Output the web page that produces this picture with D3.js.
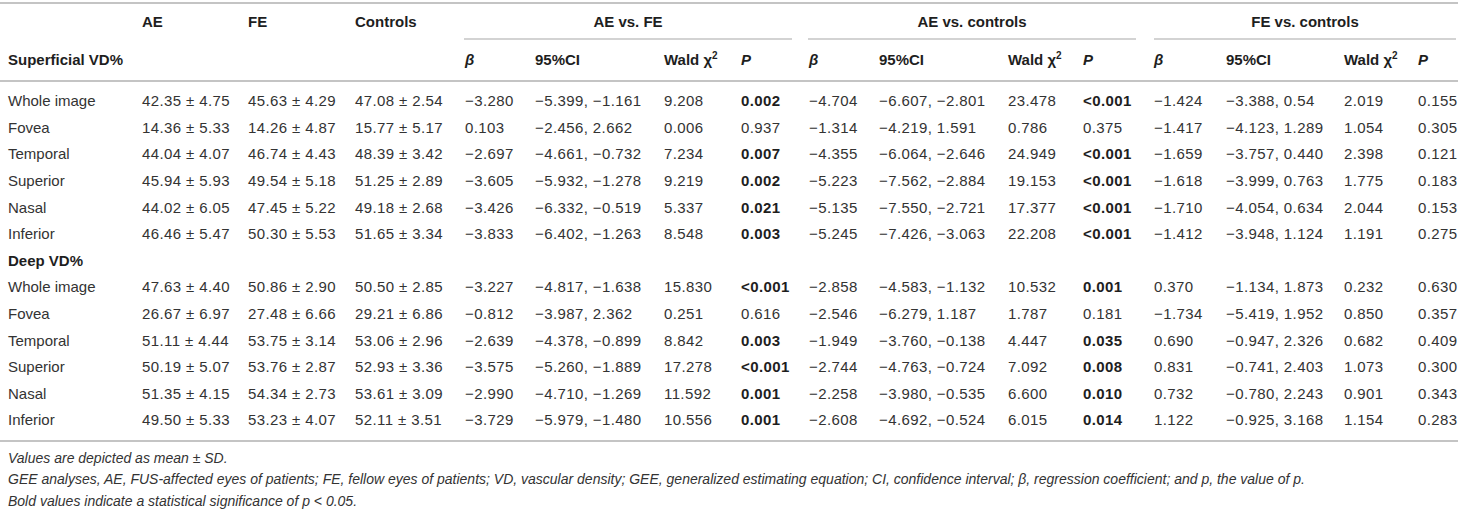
<!DOCTYPE html>
<html>
<head>
<meta charset="utf-8">
<script src="https://cdn.jsdelivr.net/npm/d3@7"></script>
<style>
  body { margin: 0; background: #fff; }
  svg { display: block; font-family: "Liberation Sans", Arial, Helvetica, sans-serif; }
</style>
</head>
<body>
<div id="chart"></div>
<script>
// ---- data ----
const regions = ['Whole image', 'Fovea', 'Temporal', 'Superior', 'Nasal', 'Inferior'];
const sections = ['Superficial VD%', 'Deep VD%'];
const groupHeads = ['AE', 'FE', 'Controls'];
const comparisons = ['AE vs. FE', 'AE vs. controls', 'FE vs. controls'];

// mean ± SD : AE, FE, Controls
const supGroups = [
    ['42.35 ± 4.75', '45.63 ± 4.29', '47.08 ± 2.54'],
    ['14.36 ± 5.33', '14.26 ± 4.87', '15.77 ± 5.17'],
    ['44.04 ± 4.07', '46.74 ± 4.43', '48.39 ± 3.42'],
    ['45.94 ± 5.93', '49.54 ± 5.18', '51.25 ± 2.89'],
    ['44.02 ± 6.05', '47.45 ± 5.22', '49.18 ± 2.68'],
    ['46.46 ± 5.47', '50.30 ± 5.53', '51.65 ± 3.34']
];
const deepGroups = [
    ['47.63 ± 4.40', '50.86 ± 2.90', '50.50 ± 2.85'],
    ['26.67 ± 6.97', '27.48 ± 6.66', '29.21 ± 6.86'],
    ['51.11 ± 4.44', '53.75 ± 3.14', '53.06 ± 2.96'],
    ['50.19 ± 5.07', '53.76 ± 2.87', '52.93 ± 3.36'],
    ['51.35 ± 4.15', '54.34 ± 2.73', '53.61 ± 3.09'],
    ['49.50 ± 5.33', '53.23 ± 4.07', '52.11 ± 3.51']
];

// β, 95%CI, Wald χ², P
const supAEvsFE = [
    ['−3.280', '−5.399, −1.161', '9.208', '0.002'],
    ['0.103', '−2.456, 2.662', '0.006', '0.937'],
    ['−2.697', '−4.661, −0.732', '7.234', '0.007'],
    ['−3.605', '−5.932, −1.278', '9.219', '0.002'],
    ['−3.426', '−6.332, −0.519', '5.337', '0.021'],
    ['−3.833', '−6.402, −1.263', '8.548', '0.003']
];
const supAEvsCtrl = [
    ['−4.704', '−6.607, −2.801', '23.478', '<0.001'],
    ['−1.314', '−4.219, 1.591', '0.786', '0.375'],
    ['−4.355', '−6.064, −2.646', '24.949', '<0.001'],
    ['−5.223', '−7.562, −2.884', '19.153', '<0.001'],
    ['−5.135', '−7.550, −2.721', '17.377', '<0.001'],
    ['−5.245', '−7.426, −3.063', '22.208', '<0.001']
];
const supFEvsCtrl = [
    ['−1.424', '−3.388, 0.54', '2.019', '0.155'],
    ['−1.417', '−4.123, 1.289', '1.054', '0.305'],
    ['−1.659', '−3.757, 0.440', '2.398', '0.121'],
    ['−1.618', '−3.999, 0.763', '1.775', '0.183'],
    ['−1.710', '−4.054, 0.634', '2.044', '0.153'],
    ['−1.412', '−3.948, 1.124', '1.191', '0.275']
];
const deepAEvsFE = [
    ['−3.227', '−4.817, −1.638', '15.830', '<0.001'],
    ['−0.812', '−3.987, 2.362', '0.251', '0.616'],
    ['−2.639', '−4.378, −0.899', '8.842', '0.003'],
    ['−3.575', '−5.260, −1.889', '17.278', '<0.001'],
    ['−2.990', '−4.710, −1.269', '11.592', '0.001'],
    ['−3.729', '−5.979, −1.480', '10.556', '0.001']
];
const deepAEvsCtrl = [
    ['−2.858', '−4.583, −1.132', '10.532', '0.001'],
    ['−2.546', '−6.279, 1.187', '1.787', '0.181'],
    ['−1.949', '−3.760, −0.138', '4.447', '0.035'],
    ['−2.744', '−4.763, −0.724', '7.092', '0.008'],
    ['−2.258', '−3.980, −0.535', '6.600', '0.010'],
    ['−2.608', '−4.692, −0.524', '6.015', '0.014']
];
const deepFEvsCtrl = [
    ['0.370', '−1.134, 1.873', '0.232', '0.630'],
    ['−1.734', '−5.419, 1.952', '0.850', '0.357'],
    ['0.690', '−0.947, 2.326', '0.682', '0.409'],
    ['0.831', '−0.741, 2.403', '1.073', '0.300'],
    ['0.732', '−0.780, 2.243', '0.901', '0.343'],
    ['1.122', '−0.925, 3.168', '1.154', '0.283']
];

const footnotes = [
    'Values are depicted as mean ± SD.',
    'GEE analyses, AE, FUS-affected eyes of patients; FE, fellow eyes of patients; VD, vascular density; GEE, generalized estimating equation; CI, confidence interval; β, regression coefficient; and p, the value of p.',
    'Bold values indicate a statistical significance of p < 0.05.'
];

// ---- layout ----
const W = 1458, H = 509;
const colKeys = ['label', 'AE', 'FE', 'Controls',
    'b1', 'ci1', 'w1', 'p1', 'b2', 'ci2', 'w2', 'p2', 'b3', 'ci3', 'w3', 'p3'];
const colX = d3.scaleOrdinal()
    .domain(colKeys)
    .range([8, 142, 248, 355, 465, 535, 664, 741, 809, 879, 1008, 1083, 1154, 1226, 1344, 1418]);
const groupSpan = [[464, 792], [808, 1136], [1154, 1456]];

// body rows: 6 superficial, 1 section label, 6 deep
const rowY = d3.scaleLinear().domain([0, 12]).range([101, 420]);

const pVal = s => s.startsWith('<') ? +s.slice(1) / 2 : +s;

const rows = [];
regions.forEach((r, i) => rows.push({ label: r, groups: supGroups[i], comps: [supAEvsFE[i], supAEvsCtrl[i], supFEvsCtrl[i]] }));
rows.push({ label: sections[1], section: true });
regions.forEach((r, i) => rows.push({ label: r, groups: deepGroups[i], comps: [deepAEvsFE[i], deepAEvsCtrl[i], deepFEvsCtrl[i]] }));

const svg = d3.select('#chart').append('svg').attr('width', W).attr('height', H);

const textCol = '#333', headCol = '#1e1e1e', ruleCol = '#c4c4c4';

// Rules
[3, 81, 441].forEach(y => {
    svg.append('line').attr('x1', 0).attr('x2', W).attr('y1', y).attr('y2', y)
        .attr('stroke', ruleCol).attr('stroke-width', 2);
});
groupSpan.forEach(([a, b]) => {
    svg.append('line').attr('x1', a).attr('x2', b).attr('y1', 39).attr('y2', 39)
        .attr('stroke', ruleCol).attr('stroke-width', 1.5);
});

// Header row 1
const head = svg.append('g').attr('font-weight', 700).attr('fill', headCol).attr('font-size', 15);
groupHeads.forEach(h => head.append('text').attr('x', colX(h)).attr('y', 22).attr('dy', '0.35em').text(h));
comparisons.forEach((c, i) => head.append('text')
    .attr('x', (groupSpan[i][0] + groupSpan[i][1]) / 2).attr('y', 22).attr('dy', '0.35em')
    .attr('text-anchor', 'middle').text(c));

// Header row 2
head.append('text').attr('x', colX('label')).attr('y', 60).attr('dy', '0.35em').text(sections[0]);
[1, 2, 3].forEach(k => {
    head.append('text').attr('x', colX('b' + k)).attr('y', 60).attr('dy', '0.35em')
        .attr('font-style', 'italic').text('β');
    head.append('text').attr('x', colX('ci' + k)).attr('y', 60).attr('dy', '0.35em').text('95%CI');
    const wt = head.append('text').attr('x', colX('w' + k)).attr('y', 60).attr('dy', '0.35em');
    wt.append('tspan').text('Wald χ');
    wt.append('tspan').attr('font-size', 10).attr('dy', '-0.6em').text('2');
    head.append('text').attr('x', colX('p' + k)).attr('y', 60).attr('dy', '0.35em')
        .attr('font-style', 'italic').text('P');
});

// Body
const body = svg.append('g').attr('font-size', 15).attr('fill', textCol);
const rowG = body.selectAll('g.row').data(rows).join('g')
    .attr('class', 'row')
    .attr('transform', (d, i) => `translate(0,${rowY(i)})`);

rowG.append('text').attr('x', colX('label')).attr('dy', '0.35em')
    .attr('font-weight', d => d.section ? 700 : 400)
    .attr('fill', d => d.section ? headCol : textCol)
    .text(d => d.label);

rowG.filter(d => !d.section).each(function (d) {
    const g = d3.select(this);
    const cells = [];
    d.groups.forEach((v, j) => cells.push({ key: groupHeads[j], v }));
    d.comps.forEach((c, k) => {
        const bold = pVal(c[3]) < 0.05;
        cells.push({ key: 'b' + (k + 1), v: c[0] });
        cells.push({ key: 'ci' + (k + 1), v: c[1] });
        cells.push({ key: 'w' + (k + 1), v: c[2] });
        cells.push({ key: 'p' + (k + 1), v: c[3], bold });
    });
    g.selectAll('text.cell').data(cells).join('text')
        .attr('class', 'cell')
        .attr('x', c => colX(c.key))
        .attr('dy', '0.35em')
        .attr('letter-spacing', 0.4)
        .attr('font-weight', c => c.bold ? 700 : 400)
        .attr('fill', c => c.bold ? headCol : textCol)
        .text(c => c.v);
});

// Footnotes
svg.append('g').attr('font-size', 14).attr('font-style', 'italic').attr('fill', textCol)
    .selectAll('text').data(footnotes).join('text')
    .attr('x', 8)
    .attr('y', (d, i) => 458 + i * 21.5)
    .attr('dy', '0.33em')
    .text(d => d);
</script>
</body>
</html>
